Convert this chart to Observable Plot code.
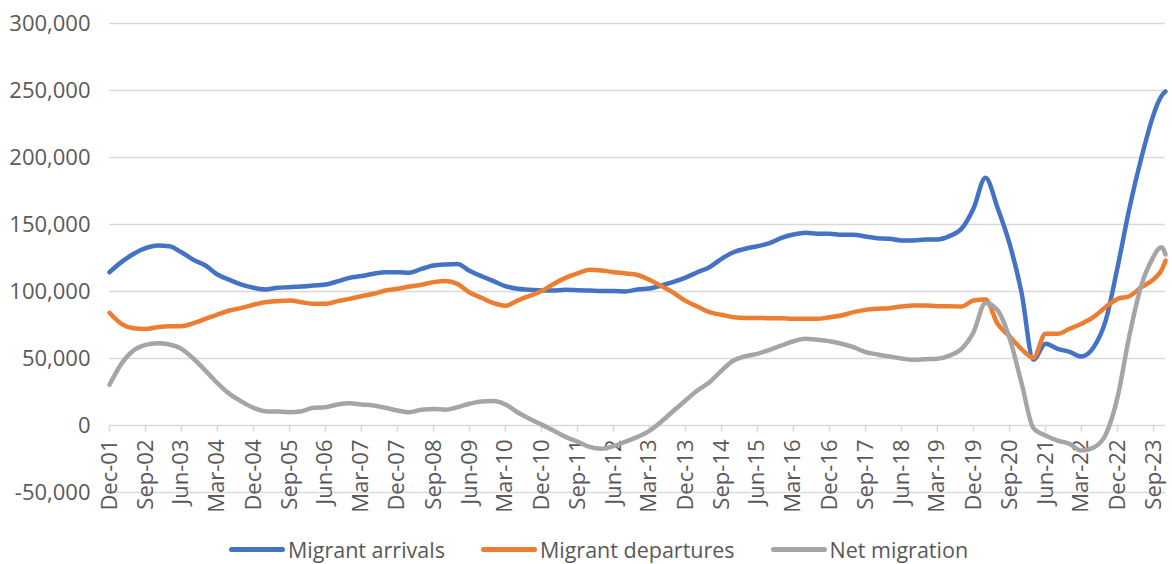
<!DOCTYPE html>
<html><head><meta charset="utf-8">
<script src="https://cdn.jsdelivr.net/npm/d3@7"></script>
<script src="https://cdn.jsdelivr.net/npm/@observablehq/plot@0.6"></script>
<style>
body{margin:0;background:#fff;font-family:"Open Sans",sans-serif;}
#chart{width:1172px;height:564px;position:relative;overflow:hidden;background:#fff}
.legend{position:absolute;left:229px;top:534px;height:30px;display:flex;align-items:center;gap:36px;font-size:21.5px;color:#595959;white-space:nowrap}
.item{display:flex;align-items:center;gap:3px}
.sw{width:56px;height:5px;border-radius:3px}
</style></head><body><div id="chart"></div>
<script>
// Quarterly observations from Dec-01 to Sep-23, then monthly Oct-23..Dec-23 (values in thousands)
const seriesNames = ["Migrant arrivals", "Migrant departures", "Net migration"];
const seriesColors = ["#4472C4", "#ED7D31", "#A5A5A5"];

const arrivals = [114.4,121.9,128,132.3,134.3,133.8,129.3,123.6,119.4,112.7,108.7,105.2,102.8,101.5,102.8,103.2,103.7,104.5,105.2,107.5,
110.2,111.5,113.2,114.4,114.4,114,116.9,119.4,120.2,120.5,115.5,111.4,107.7,104,102,101.3,100.7,100.7,101.3,101,
100.7,100.3,100.3,100,101.5,102.2,104.5,107.2,110.3,114.4,118.1,124.4,129.3,131.9,133.8,136.1,140,142.5,143.8,143.1,
143.1,142.3,142.3,141,139.8,139.3,138.1,138.1,138.8,138.8,141.3,146.8,162,184.8,162.5,135.5,99,49,61,57.2,
55,51.5,58.2,78,118,162,200,232,240,246,249.3];

const departures = [84.1,75.9,72.6,72.1,73.4,74.1,74.1,76.4,79.6,82.8,85.8,87.8,90.1,92,92.8,93.3,92,90.8,90.8,92.8,
94.5,96.5,98.3,100.7,102,103.7,105,107,107.9,105.7,99.3,95.3,91.3,89.3,93.2,96.8,100.3,105.5,110.2,113.5,
116.3,115.7,114.4,113.5,112.3,108.8,104,99,93,88.8,84.6,82.6,80.8,80.3,80.3,80,80,79.6,79.6,79.6,
80.8,82.1,84.6,86.3,87.1,87.5,88.8,89.6,89.6,89,89,88.8,93.3,94,76,66.5,57,50.5,68.5,68.4,
72.2,75.9,80.8,88.3,94.5,96.5,103.2,109,112,116,123];

const netMigration = [30.4,46,56,60.2,61.4,60.4,57.2,49.8,41,31.6,23.6,17.9,13.2,10.7,10.4,9.9,10.7,13.2,13.7,15.7,
16.6,15.7,14.9,13.2,11.2,9.9,11.7,12.4,11.7,13.7,16.2,17.9,18.2,15.7,9.9,5,0.7,-3.7,-8.5,-12,
-16,-17.4,-15.4,-12,-8.5,-4,3,11,18.7,26.1,32.3,41,48.5,51.7,53.5,56.5,59.7,62.9,64.7,64,
62.9,61,58.4,54.7,53,51.5,50,49,49.5,49.8,52.2,57.2,69.6,91.5,86,65,31.5,-2,-7.5,-11.2,
-13.7,-18.7,-16.5,-7,21,67,105,126,131,133,127.6];

const yTicks = [-50000,0,50000,100000,150000,200000,250000,300000];

const start = new Date(Date.UTC(2001, 11, 1));
const monthOffsets = d3.range(0, 262, 3).concat([262, 263, 264]);
const dates = monthOffsets.map(m => d3.utcMonth.offset(start, m));
const tickDates = d3.range(0, 262, 9).map(m => d3.utcMonth.offset(start, m));
const fmtDate = d3.utcFormat("%b-%y");

const tables = [arrivals, departures, netMigration].map((vals, k) =>
  vals.map((v, i) => ({date: dates[i], value: v * 1000, series: seriesNames[k]})));

const chart = Plot.plot({
  width: 1172, height: 530,
  marginTop: 23, marginBottom: 38, marginLeft: 109, marginRight: 7,
  x: {type: "utc", domain: [start, d3.utcMonth.offset(start, 264)], axis: null},
  y: {domain: [-50000, 300000]},
  style: {fontFamily: "'Open Sans', sans-serif", fontSize: "22px", color: "#595959", background: "white", overflow: "visible"},
  marks: [
    Plot.gridY(yTicks, {stroke: "#d9d9d9", strokeOpacity: 1, strokeWidth: 1.5}),
    Plot.axisY(yTicks, {tickSize: 0, tickPadding: 19, label: null, fill: "#595959", fontSize: 22,
      tickFormat: d => d.toLocaleString("en-US")}),
    Plot.ruleX(tickDates, {x: d => d, y1: () => 0, y2: () => -5000, stroke: "#d9d9d9", strokeWidth: 1.5}),
    Plot.text(tickDates, {x: d => d, y: () => 0, text: d => fmtDate(d), rotate: -90, textAnchor: "end",
      dy: 14, fill: "#595959", fontSize: 22}),
    ...tables.map((t, k) => Plot.line(t, {x: "date", y: "value", stroke: seriesColors[k], strokeWidth: 4.5,
      curve: "monotone-x", strokeLinecap: "round", strokeLinejoin: "round"}))
  ]
});

const root = document.getElementById("chart");
root.appendChild(chart);
const legend = document.createElement("div");
legend.className = "legend";
seriesNames.forEach((name, k) => {
  const item = document.createElement("div");
  item.className = "item";
  const sw = document.createElement("span");
  sw.className = "sw";
  sw.style.background = seriesColors[k];
  const label = document.createElement("span");
  label.textContent = name;
  item.appendChild(sw); item.appendChild(label);
  legend.appendChild(item);
});
root.appendChild(legend);
</script></body></html>
